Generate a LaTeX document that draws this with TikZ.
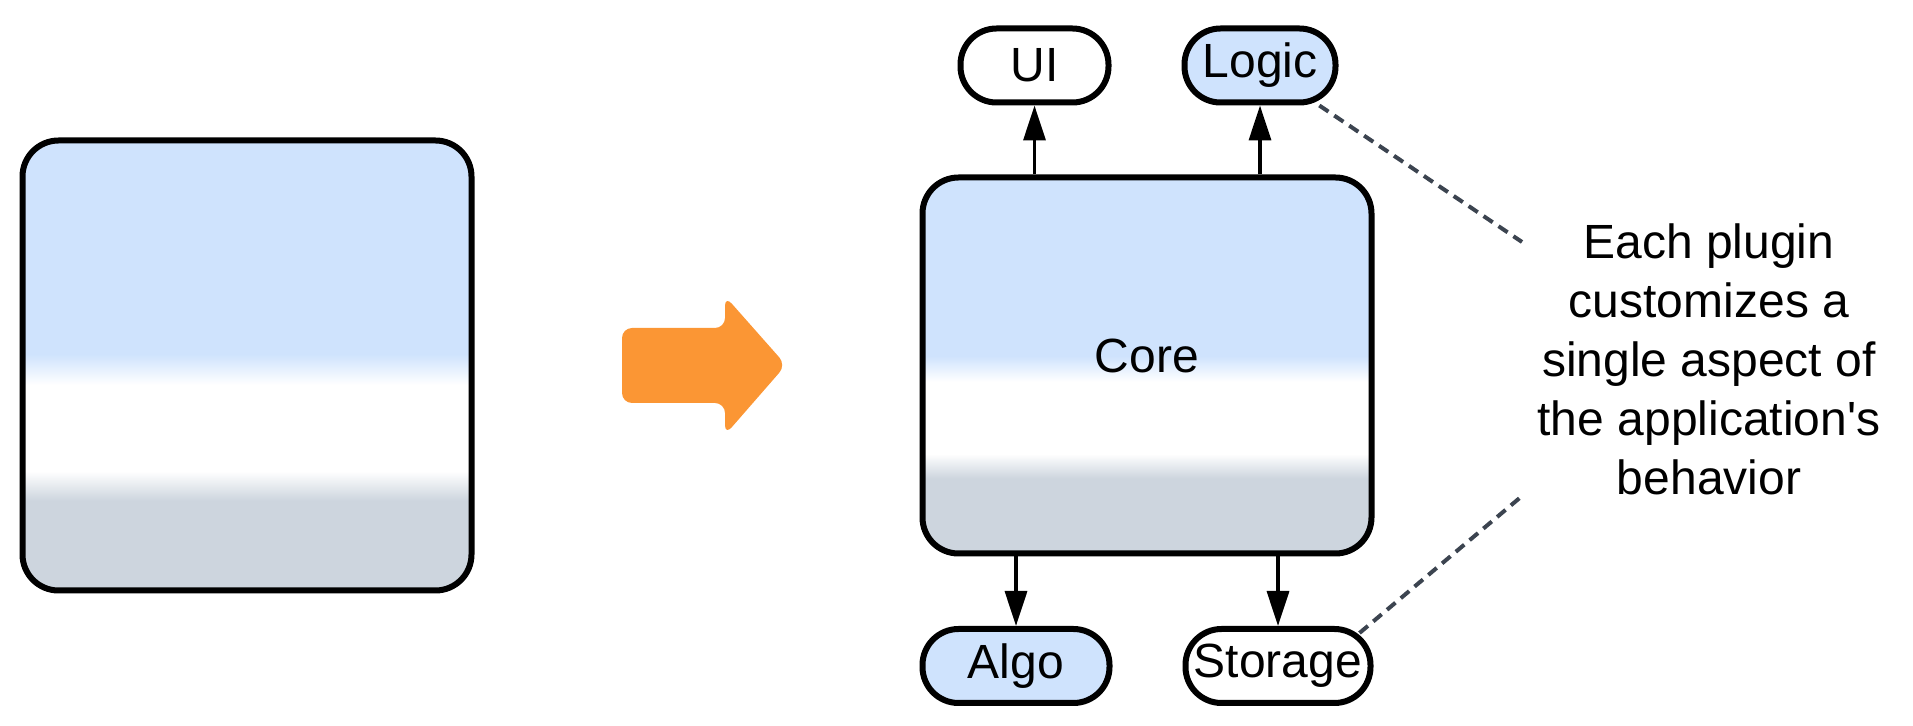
\documentclass[tikz,border=0pt]{standalone}
\usepackage{fontspec}
\setmainfont{Liberation Sans}
\usetikzlibrary{arrows.meta}

\definecolor{tierblue}{RGB}{207,227,253}
\definecolor{tiergray}{RGB}{205,213,222}
\definecolor{pluginblue}{RGB}{207,227,253}
\definecolor{arroworange}{RGB}{251,150,52}
\definecolor{notegray}{RGB}{60,68,80}

% blue top, white band, grey bottom (the 25bp..75bp range covers the box)
\pgfdeclareverticalshading{tiers}{100bp}{color(0bp)=(tiergray); color(35bp)=(tiergray);
  color(38.25bp)=(white); color(47.85bp)=(white); color(51.25bp)=(tierblue); color(100bp)=(tierblue)}

\begin{document}
\begin{tikzpicture}[x=0.5pt,y=-0.5pt,
  font=\fontsize{24}{29.6}\selectfont,
  tierbox/.style={draw, line width=3pt, rounded corners=18pt, shading=tiers,
    minimum width=224.5pt, inner sep=0pt},
  plugin/.style={draw, line width=3pt, rounded corners=18pt, minimum height=37pt,
    inner sep=0pt, fill=white},
  conn/.style={line width=1.7pt, -{Triangle[length=17.5pt,width=11pt]}},
  noteline/.style={draw=notegray, line width=2pt, dash pattern=on 5.5pt off 3.5pt}]
\useasboundingbox (0,0) rectangle (1913,726);

% monolithic application
\node[tierbox, minimum height=225pt] (mono) at (247,365.5) {};

% transformation arrow
\fill[arroworange, rounded corners=5pt] (622,328) -- (725,328) -- (725,296) -- (786,365)
  -- (725,435) -- (725,403) -- (622,403) -- cycle;

% core with its plugins
\node[tierbox, minimum height=188pt, label={[yshift=5pt]center:Core}] (core) at (1147,365.5) {};
\node[plugin, minimum width=74pt] (ui) at (1034.5,65.5) {UI};
\node[plugin, minimum width=75.5pt, fill=pluginblue] (logic) at (1260,65.5) {Logic};
\node[plugin, minimum width=93.5pt, fill=pluginblue] (algo) at (1016,666) {Algo};
\node[plugin, minimum width=92.5pt] (storage) at (1278,666) {Storage};

\draw[conn] (ui.south |- core.north) -- (ui.south);
\draw[conn] (logic.south |- core.north) -- (logic.south);
\draw[conn] (algo.north |- core.south) -- (algo.north);
\draw[conn] (storage.north |- core.south) -- (storage.north);

% annotation
\node[align=center, inner sep=0pt, anchor=north] (note) at (1709,223)
  {Each plugin\\customizes a\\single aspect of\\the application{\textquotesingle}s\\behavior};
\coordinate (n1) at (1522,242);
\coordinate (n2) at (1522,496);
\draw[noteline] (logic) -- (n1);
\draw[noteline] ([xshift=-7pt,yshift=16.5pt]storage.east) -- (n2);
\end{tikzpicture}
\end{document}
